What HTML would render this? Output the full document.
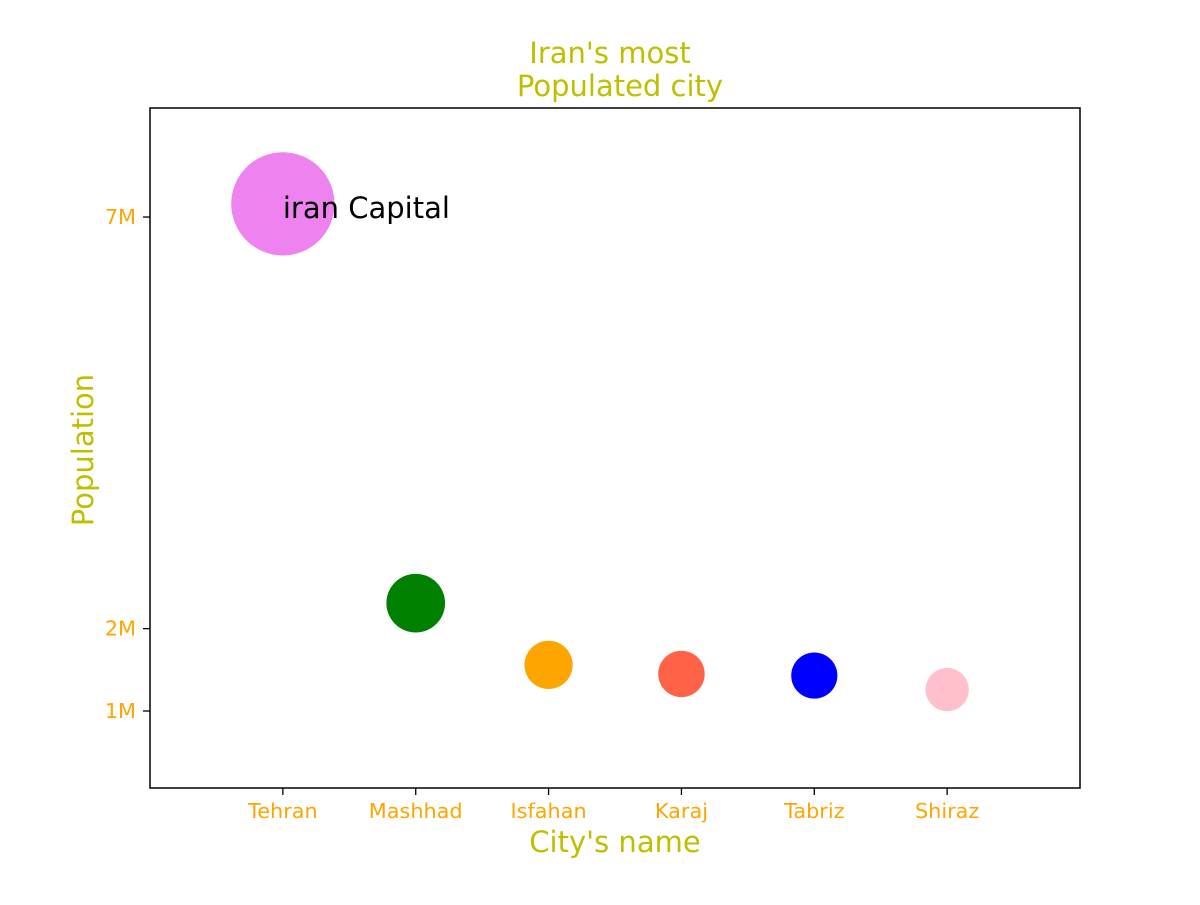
<!DOCTYPE html>
<html><head><meta charset="utf-8"><style>
html,body{margin:0;padding:0;background:#fff;}
svg text{font-family:"DejaVu Sans","Liberation Sans",sans-serif;}
</style></head><body>
<svg id="chart" width="1200" height="900" xmlns="http://www.w3.org/2000/svg">
<rect width="1200" height="900" fill="#fff"/>
<text x="610" y="63" font-size="29" fill="#bfbf00" text-anchor="middle">Iran's most</text>
<text x="620" y="96" font-size="29" fill="#bfbf00" text-anchor="middle">Populated city</text>
<g id="marks"></g>
<rect x="150" y="108" width="930" height="680" fill="none" stroke="#000" stroke-width="1.5"/>
<g id="axes"></g>
<text x="615" y="852" font-size="29" fill="#bfbf00" text-anchor="middle">City's name</text>
<text transform="translate(93,450) rotate(-90)" font-size="29" fill="#bfbf00" text-anchor="middle">Population</text>
</svg>
<script>
const cities = ["Tehran","Mashhad","Isfahan","Karaj","Tabriz","Shiraz"];
const populations = [7.16, 2.31, 1.56, 1.45, 1.43, 1.26];
const colors = ["violet","green","orange","tomato","blue","pink"];
const yTicks = [1, 2, 7];
const yTickLabels = ["1M","2M","7M"];
const NS="http://www.w3.org/2000/svg";
function xs(i){return 150+(i+1)*132.86;}
function ys(v){return 711-(v-1)*82.33;}
function rs(v){return Math.sqrt(v)*19.3;}
const marks=document.getElementById('marks'), axes=document.getElementById('axes');
function mk(tag,attrs,parent){const e=document.createElementNS(NS,tag);for(const k in attrs)e.setAttribute(k,attrs[k]);parent.appendChild(e);return e;}
cities.forEach((c,i)=>{
  const el=mk('circle',{cx:xs(i),cy:ys(populations[i]),r:rs(populations[i]),fill:colors[i]},marks);
  
  
  const t=mk('line',{x1:xs(i),x2:xs(i),y1:788,y2:795,stroke:'#000','stroke-width':1.3},axes);
  
  
  const l=mk('text',{x:xs(i),y:818,'font-size':20.8,fill:'orange','text-anchor':'middle'},axes);
  l.textContent=c;
  
  
});
yTicks.forEach((v,i)=>{
  const t=mk('line',{x1:143,x2:150,y1:ys(v),y2:ys(v),stroke:'#000','stroke-width':1.3},axes);
  
  
  const l=mk('text',{x:136,y:ys(v)+7,'font-size':20.8,fill:'orange','text-anchor':'end'},axes);
  l.textContent=yTickLabels[i];
  
  
});
const ann=mk('text',{x:xs(0),y:ys(populations[0])+14,'font-size':29,fill:'#000'},marks);
ann.textContent='iran Capital';


</script>
</body></html>
